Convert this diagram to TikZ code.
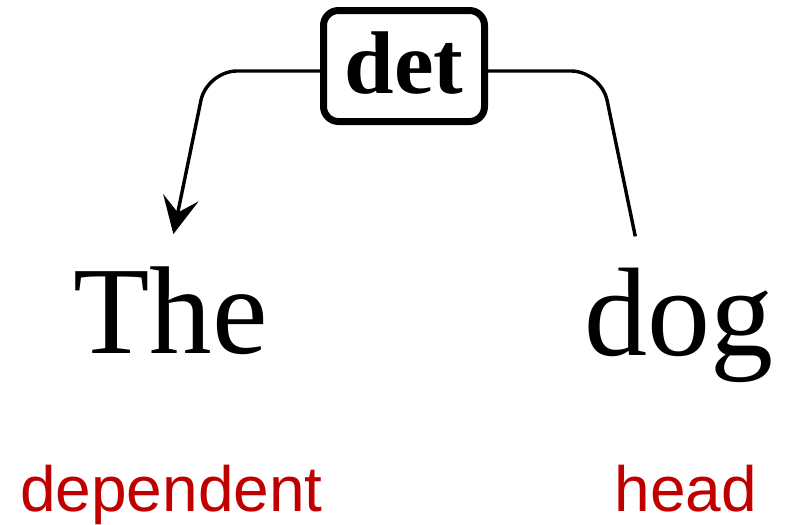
\documentclass[tikz,border=0pt]{standalone}
\usepackage{fontspec}
\setmainfont{Liberation Serif}
\setsansfont{Liberation Sans}
\usetikzlibrary{arrows.meta}
\definecolor{labelred}{RGB}{192,0,0}
\begin{document}
\begin{tikzpicture}[x=1pt,y=-1pt,
  word/.style={inner sep=0pt, anchor=base west},
  rolelabel/.style={inner sep=0pt, anchor=base west, text=labelred,
    font=\sffamily\fontsize{64}{64}\selectfont},
  relbox/.style={draw, line width=7pt, rounded corners=15pt,
    minimum width=161pt, minimum height=111pt, inner sep=0pt,
    text height=61pt, text depth=6pt,
    font=\bfseries\fontsize{89}{89}\selectfont},
  arc/.style={line width=3.4pt, rounded corners=30pt},
  tip/.style={-{Stealth[length=37pt, width=36pt, inset=15pt]}}
]
\useasboundingbox (0,0) rectangle (785,525);

% words of the sentence
\node[word, font=\fontsize{125}{125}\selectfont] (the) at (73,353) {The};
\node[word, font=\fontsize{126}{126}\selectfont] (dog) at (584.6,355) {dog};

% dependency label
\node[relbox] (det) at (404,66) {det};

% roles
\node[rolelabel] (dep) at (20,511) {dependent};
\node[rolelabel] (head) at (614.6,511) {head};

% bends of the arc
\coordinate (lbend) at (207,71);
\coordinate (rbend) at (601,71);

% arc from head to dependent through the label
\draw[arc, tip] (det.west |- lbend) -- (lbend) -- ([xshift=3pt,yshift=32pt]the.north);
\draw[arc] (det.east |- rbend) -- (rbend) -- ([xshift=-44pt,yshift=31pt]dog.north);
\end{tikzpicture}
\end{document}
